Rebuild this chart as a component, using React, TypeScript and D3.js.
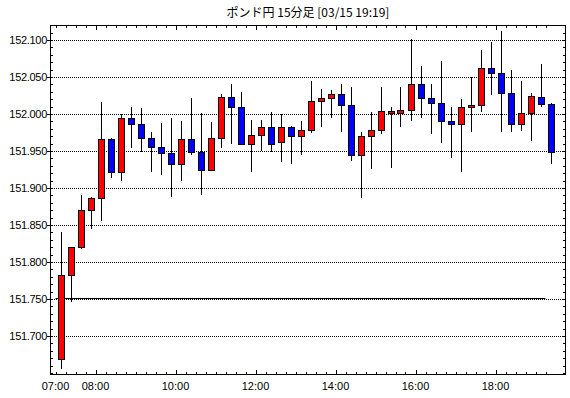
import React from "react";
import * as d3 from "d3";

const TITLE = "ポンド円 15分足 [03/15 19:19]";
const START_HOUR = 7;
const openV = [151.669,151.782,151.820,151.870,151.887,151.966,151.921,151.994,151.986,151.967,151.956,151.947,151.933,151.966,151.949,151.924,151.967,152.023,152.009,151.960,151.971,151.982,151.962,151.982,151.970,151.979,152.017,152.021,152.027,152.012,151.944,151.970,151.979,152.002,152.002,152.006,152.040,152.021,152.015,151.990,151.987,152.009,152.012,152.062,152.056,152.029,151.986,152.002,152.023,152.013];
const highV = [151.841,151.820,151.891,151.888,152.016,151.967,152.000,152.009,152.008,151.976,151.988,151.995,151.990,152.022,152.001,151.989,152.027,152.040,152.030,151.992,151.992,152.003,152.000,151.984,151.990,152.045,152.034,152.032,152.040,152.036,151.976,152.003,152.036,152.009,152.036,152.102,152.065,152.040,152.072,152.009,152.020,152.050,152.087,152.097,152.112,152.060,152.045,152.028,152.068,152.015];
const lowV = [151.656,151.746,151.817,151.844,151.856,151.913,151.909,151.954,151.948,151.922,151.917,151.888,151.909,151.945,151.891,151.924,151.954,151.960,151.958,151.921,151.950,151.948,151.935,151.933,151.944,151.974,151.983,151.995,151.975,151.936,151.886,151.925,151.973,151.927,151.983,151.990,151.994,151.973,151.961,151.940,151.921,151.975,152.003,152.025,151.975,151.975,151.977,151.963,152.009,151.932];
const closeV = [151.782,151.820,151.870,151.887,151.966,151.921,151.994,151.986,151.967,151.956,151.947,151.933,151.966,151.949,151.924,151.967,152.023,152.009,151.960,151.971,151.982,151.960,151.983,151.970,151.979,152.017,152.021,152.027,152.012,151.944,151.970,151.979,152.004,152.004,152.006,152.040,152.021,152.015,151.990,151.987,152.009,152.012,152.062,152.056,152.029,151.986,152.001,152.024,152.013,151.948];
const yTicks = [151.7, 151.75, 151.8, 151.85, 151.9, 151.95, 152.0, 152.05, 152.1];
const xLabels = ["07:00", "08:00", "10:00", "12:00", "14:00", "16:00", "18:00"];
const refLevel = 151.752;

const W = 570, H = 398;
const L = 50, R = 566, T = 25, B = 375;

export default function App() {
  const n = openV.length;
  // x in hours
  const x = d3.scaleLinear().domain([START_HOUR, START_HOUR + 12.5]).range([55.5, 555.5]);
  const y = d3.scaleLinear().domain([151.7 - 39 / 740, 152.1 + 15 / 740]).range([B, T]);
  const crisp = (v: number) => Math.round(v) + 0.5;
  const candles = d3.range(n).map((i) => ({
    t: START_HOUR + i * 0.25,
    o: openV[i], h: highV[i], l: lowV[i], c: closeV[i],
  }));
  const minorY = d3.range(151.65, 152.12, 0.01).map((v) => Math.round(v * 100) / 100);
  const tickTimes = d3.range(n).map((i) => START_HOUR + i * 0.25);
  const font = "'Liberation Sans', Arial, sans-serif";
  const hourOf = (s: string) => parseInt(s.slice(0, 2), 10);

  return (
    <svg width={W} height={H} style={{ position: "absolute", left: 0, top: 0, background: "#fff" }}>
      <rect x={0} y={0} width={W} height={H} fill="#fff" />
      <text x={(L + R) / 2} y={17} textAnchor="middle" fontSize={12} fontFamily="'Noto Sans CJK JP', sans-serif" fill="#000">{TITLE}</text>
      {/* grid */}
      {yTicks.map((v) => (
        <line key={"g" + v} x1={L} x2={R} y1={crisp(y(v))} y2={crisp(y(v))} stroke="#000" strokeDasharray="1 1" />
      ))}
      {/* reference line */}
      <line x1={x(START_HOUR)} x2={x(START_HOUR + 12.25)} y1={crisp(y(refLevel))} y2={crisp(y(refLevel))} stroke="#000" />
      {/* minor y ticks */}
      {minorY.filter((v) => y(v) > T && y(v) < B).map((v) => (
        <g key={"m" + v}>
          <line x1={L} x2={L + 3} y1={crisp(y(v))} y2={crisp(y(v))} stroke="#000" />
          <line x1={R - 3} x2={R} y1={crisp(y(v))} y2={crisp(y(v))} stroke="#000" />
        </g>
      ))}
      {yTicks.map((v) => (
        <g key={"yl" + v}>
          <line x1={L - 3} x2={L} y1={crisp(y(v))} y2={crisp(y(v))} stroke="#000" />
          <text x={L - 3} y={y(v) + 4} textAnchor="end" fontSize={11} letterSpacing={-0.3} fontFamily={font} fill="#000">{d3.format(".3f")(v)}</text>
        </g>
      ))}
      {/* x ticks */}
      {tickTimes.map((t) => {
        const major = Math.abs(t - Math.round(t)) < 1e-6 && Math.round(t) % 2 === 0;
        const len = major ? 5 : 3;
        return (
          <g key={"xt" + t}>
            <line x1={crisp(x(t))} x2={crisp(x(t))} y1={B} y2={B - len} stroke="#000" />
            <line x1={crisp(x(t))} x2={crisp(x(t))} y1={T} y2={T + len} stroke="#000" />
          </g>
        );
      })}
      {xLabels.map((s) => (
        <text key={s} x={x(hourOf(s))} y={390} textAnchor="middle" fontSize={11} fontFamily={font} fill="#000">{s}</text>
      ))}
      {/* candles */}
      {candles.map((d, i) => {
        const cx = crisp(x(d.t + 0.125));
        const up = d.c >= d.o;
        const top = Math.round(y(Math.max(d.o, d.c)));
        const bot = Math.round(y(Math.min(d.o, d.c)));
        return (
          <g key={"c" + i}>
            <line x1={cx} x2={cx} y1={Math.round(y(d.h))} y2={Math.round(y(d.l))} stroke="#000" />
            <rect x={cx - 3} y={top + 0.5} width={6} height={Math.max(1, bot - top)} fill={up ? "#ff0000" : "#0000ff"} stroke="#000" />
          </g>
        );
      })}
      {/* frame */}
      <rect x={L + 0.5} y={T + 0.5} width={R - L - 1} height={B - T - 1} fill="none" stroke="#000" />
    </svg>
  );
}
